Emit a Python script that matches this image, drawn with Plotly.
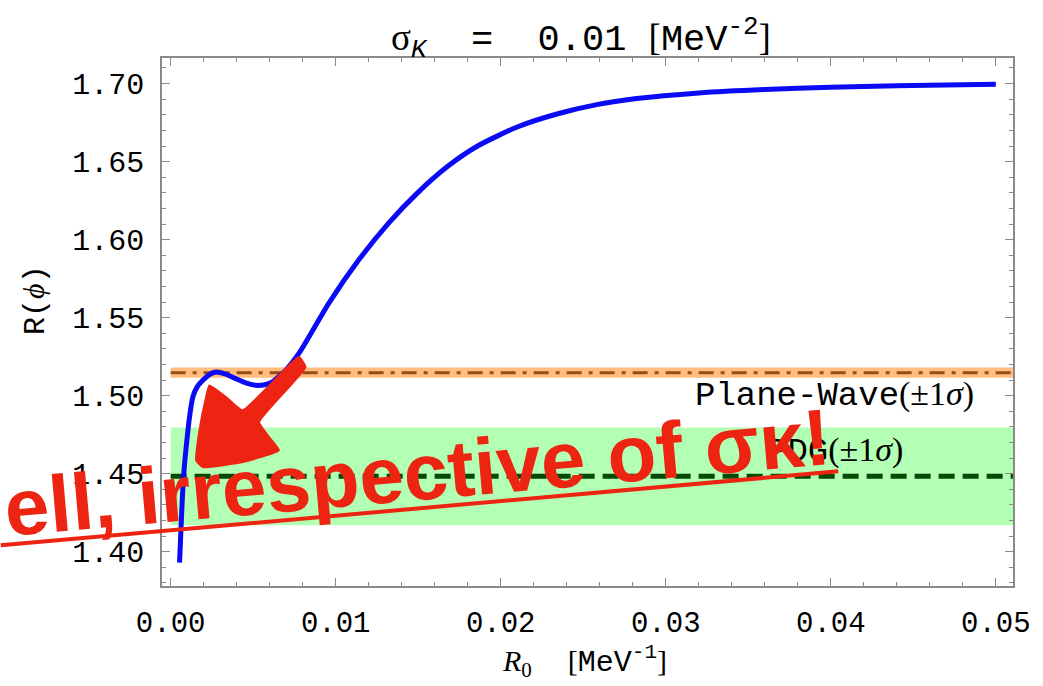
import plotly.graph_objects as go

# ---- data ----
r0 = [0.00054, 0.00064, 0.00074, 0.00084, 0.00094, 0.00114, 0.00134, 0.00160, 0.00195,
      0.00235, 0.00275, 0.00330, 0.00395, 0.00460, 0.00515, 0.00570, 0.00614, 0.00696,
      0.00776, 0.00957, 0.01138, 0.01318, 0.01499, 0.01679, 0.01860, 0.02100, 0.02341,
      0.02582, 0.02823, 0.03200, 0.03600, 0.04000, 0.04400, 0.04800, 0.05000]
r_phi = [1.393, 1.418, 1.441, 1.456, 1.467, 1.486, 1.499, 1.5055, 1.5098,
         1.5135, 1.5151, 1.5140, 1.5109, 1.5080, 1.5066, 1.5070, 1.5087, 1.5162,
         1.5269, 1.5590, 1.5867, 1.6103, 1.6303, 1.6470, 1.6600, 1.6722, 1.6805,
         1.6865, 1.6904, 1.6940, 1.6962, 1.6976, 1.6986, 1.6993, 1.6996]

plane_wave_center = 1.5147
plane_wave_sigma = 0.0033
pdg_center = 1.4483
pdg_sigma = 0.0313

x_range = [-0.000524, 0.05104]
y_range = [1.378, 1.7164]
x_ticks = [0.00, 0.01, 0.02, 0.03, 0.04, 0.05]
x_ticktext = ["0.00", "0.01", "0.02", "0.03", "0.04", "0.05"]
y_ticks = [1.40, 1.45, 1.50, 1.55, 1.60, 1.65, 1.70]
y_ticktext = ["1.40", "1.45", "1.50", "1.55", "1.60", "1.65", "1.70"]

# hand-drawn red arrow (data coordinates)
arrow_x = [0.002347, 0.003353, 0.004352, 0.007765, 0.008168, 0.005357, 0.005959, 0.006561,
           0.004352, 0.001944, 0.001547, 0.001746, 0.002149, 0.002347]
arrow_y = [1.5066, 1.4991, 1.4906, 1.5247, 1.5183, 1.4831, 1.4735, 1.4650,
           1.4574, 1.4542, 1.4585, 1.4778, 1.4991, 1.5066]

MONO = "Liberation Mono, Courier New, monospace"
RED = "#EE2412"
AX = "#8a8a8a"

fig = go.Figure()

# bands
fig.add_shape(type="rect", xref="x", yref="y", x0=0, x1=x_range[1],
              y0=pdg_center - pdg_sigma, y1=pdg_center + pdg_sigma,
              fillcolor="#B3FFB3", line_width=0, layer="below")
fig.add_shape(type="rect", xref="x", yref="y", x0=0, x1=x_range[1],
              y0=plane_wave_center - plane_wave_sigma, y1=plane_wave_center + plane_wave_sigma,
              fillcolor="#FFBE80", line_width=0, layer="below")

# central lines
fig.add_trace(go.Scatter(x=[0, x_range[1]], y=[plane_wave_center] * 2, mode="lines",
                         line=dict(color="#9A4E0C", width=3, dash="15px,7px,4px,7px"),
                         hoverinfo="skip"))
fig.add_trace(go.Scatter(x=[0, x_range[1]], y=[pdg_center] * 2, mode="lines",
                         line=dict(color="#064806", width=5, dash="16px,8px"),
                         hoverinfo="skip"))

# main curve
fig.add_trace(go.Scatter(x=r0, y=r_phi, mode="lines",
                         line=dict(color="#0A0AF5", width=5, shape="spline", smoothing=0.6)))

# red arrow
fig.add_trace(go.Scatter(x=arrow_x, y=arrow_y, mode="lines", fill="toself",
                         fillcolor=RED, line=dict(color=RED, width=2, shape="spline", smoothing=0.4),
                         hoverinfo="skip"))

# mirror axes (top/right ticks)
fig.add_trace(go.Scatter(x=[x_range[0]], y=[y_range[0]], xaxis="x2", yaxis="y2",
                         mode="markers", marker=dict(opacity=0), hoverinfo="skip"))

tickstyle = dict(ticks="inside", ticklen=8, tickwidth=1.3, tickcolor=AX,
                 showline=True, linecolor=AX, linewidth=1.5, showgrid=False, zeroline=False)

fig.update_layout(
    width=1043, height=686,
    margin=dict(l=162, r=24, t=58, b=100),
    plot_bgcolor="white", paper_bgcolor="white",
    showlegend=False,
    xaxis=dict(range=x_range, tickvals=x_ticks, ticktext=x_ticktext,
               tickfont=dict(family=MONO, size=29, color="black"),
               ticklabelstandoff=9,
               minor=dict(ticks="inside", ticklen=4.5, tickcolor=AX, dtick=0.002, tick0=0, showgrid=False),
               **tickstyle),
    yaxis=dict(range=y_range, tickvals=y_ticks, ticktext=y_ticktext,
               tickfont=dict(family=MONO, size=30, color="black"),
               ticklabelstandoff=10,
               minor=dict(ticks="inside", ticklen=4.5, tickcolor=AX, dtick=0.01, tick0=1.40, showgrid=False),
               **tickstyle),
    xaxis2=dict(range=x_range, overlaying="x", side="top", tickvals=x_ticks, showticklabels=False,
                minor=dict(ticks="inside", ticklen=4.5, tickcolor=AX, dtick=0.002, tick0=0, showgrid=False),
                **tickstyle),
    yaxis2=dict(range=y_range, overlaying="y", side="right", tickvals=y_ticks, showticklabels=False,
                minor=dict(ticks="inside", ticklen=4.5, tickcolor=AX, dtick=0.01, tick0=1.40, showgrid=False),
                **tickstyle),
)

SER = "<span style='font-family:Liberation Serif'>"
annotations = [
    # title
    dict(xref="paper", yref="paper", x=0.492, y=1.0373, xanchor="center", yanchor="middle",
         text=SER + "σ</span><sub><i>K</i></sub>  =  0.01 " + SER + "[</span>MeV<sup>-2</sup>" + SER + "]</span>",
         font=dict(family=MONO, size=37, color="black"), showarrow=False),
    # x label
    dict(xref="paper", yref="paper", x=0.497, y=-0.143, xanchor="center", yanchor="middle",
         text=SER + "<i>R</i><sub>0</sub></span>  " + SER + "[</span>MeV<sup>-1</sup>" + SER + "]</span>",
         font=dict(family=MONO, size=30, color="black"), showarrow=False),
    # y label
    dict(xref="paper", yref="paper", x=-0.1486, y=0.541, xanchor="center", yanchor="middle",
         text="R(" + SER + "<i>ϕ</i></span>)", textangle=-90,
         font=dict(family=MONO, size=30, color="black"), showarrow=False),
    # band labels
    dict(xref="x", yref="y", x=0.0488, y=1.5002, xanchor="right", yanchor="middle",
         text="Plane-Wave" + SER + "(±1<i>σ</i>)</span>",
         font=dict(family=MONO, size=34, color="black"), showarrow=False),
    dict(xref="x", yref="y", x=0.04448, y=1.4643, xanchor="right", yanchor="middle",
         text="PDG" + SER + "(±1<i>σ</i>)</span>",
         font=dict(family=MONO, size=34, color="black"), showarrow=False),
    # handwritten remark
    dict(xref="paper", yref="paper", x=0.3008, y=0.2153, xanchor="center", yanchor="middle",
         text="<b>ell, irrespective of σκ!</b>", textangle=-5,
         font=dict(family="Liberation Sans, Arial, sans-serif", size=80, color=RED), showarrow=False),
]
fig.update_layout(annotations=annotations)

# underline stroke of the remark
fig.add_shape(type="line", xref="paper", yref="paper", x0=-0.1895, y0=0.0771, x1=0.7946, y1=0.2172,
              line=dict(color=RED, width=4), layer="above")

fig.write_html("out.html")
